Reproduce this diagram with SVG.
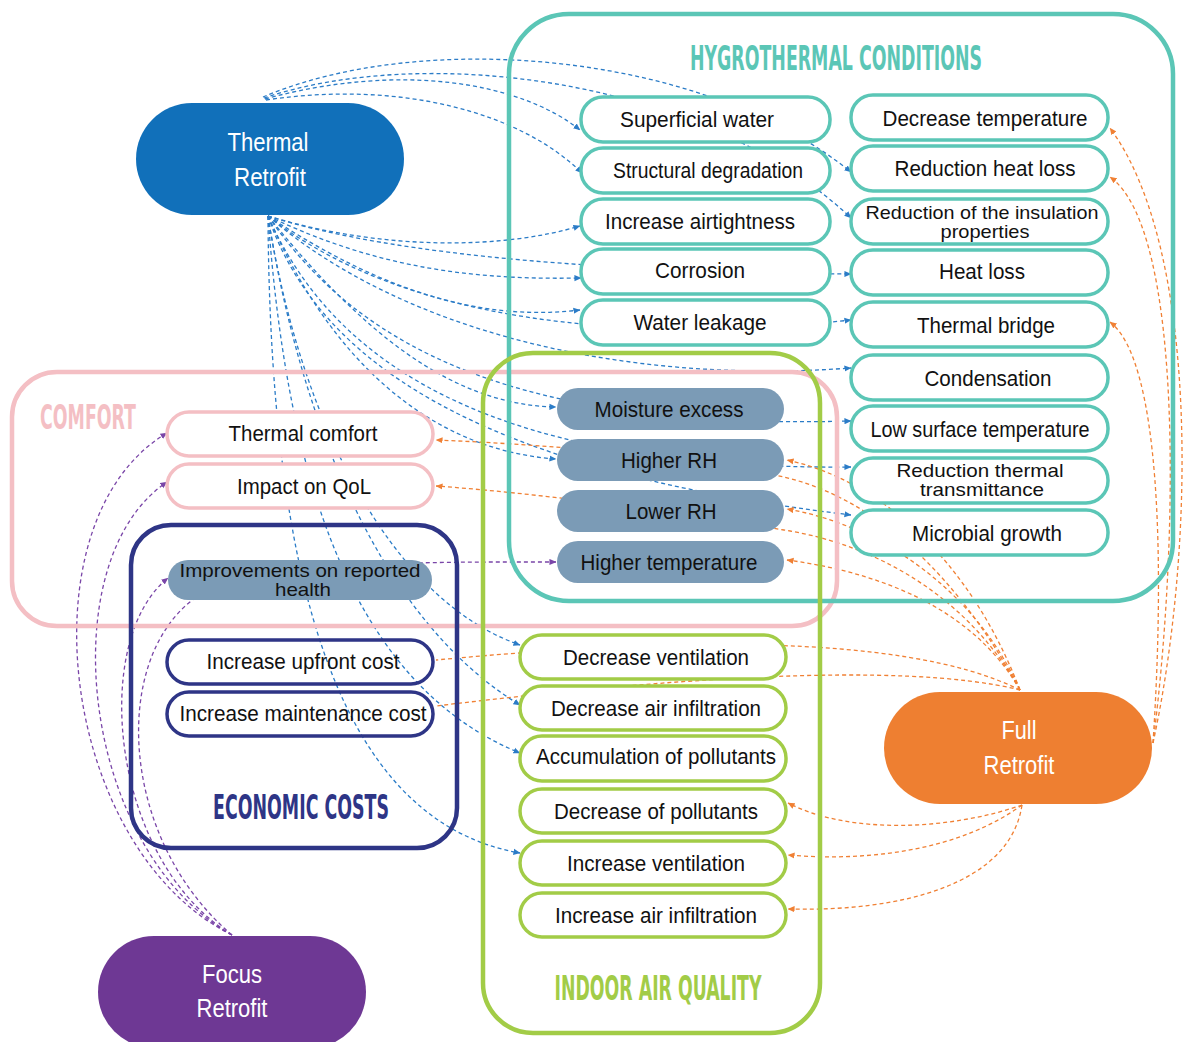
<svg xmlns="http://www.w3.org/2000/svg" width="1187" height="1042" viewBox="0 0 1187 1042">
<style>
.cb{fill:none;stroke:#2b7cc7;stroke-width:1.3;stroke-dasharray:4 3;marker-end:url(#ab)}
.con{fill:none;stroke:#f08034;stroke-width:1.3;stroke-dasharray:4 3}
.co{fill:none;stroke:#f08034;stroke-width:1.3;stroke-dasharray:4 3;marker-end:url(#ao)}
.cp{fill:none;stroke:#7a46a8;stroke-width:1.3;stroke-dasharray:4 3;marker-end:url(#ap)}
.ht{fill:#fff;stroke:#5bc6b6;stroke-width:3.5}
.cf{fill:#fff;stroke:#f4bfc4;stroke-width:3.5}
.ec{fill:none;stroke:#2e3586;stroke-width:3.5}
.iq{fill:#fff;stroke:#a2cc47;stroke-width:3.5}
.gb{fill:#7b9bb6;stroke:none}
.t{font-family:"Liberation Sans",Arial,sans-serif;font-size:22px;fill:#111;text-anchor:middle}
.t2{font-family:"Liberation Sans",Arial,sans-serif;font-size:19px;fill:#111;text-anchor:middle}
.w{font-family:"Liberation Sans",Arial,sans-serif;font-size:25px;fill:#fff;text-anchor:middle}
.h{font-family:"DejaVu Sans Condensed","Liberation Sans",sans-serif;font-weight:bold;font-size:33px;text-anchor:middle}
</style>
<defs>
<marker id="ab" viewBox="0 0 8 8" refX="7.5" refY="4" markerWidth="7" markerHeight="7" orient="auto" markerUnits="userSpaceOnUse"><path d="M0,0.5 L8,4 L0,7.5 z" fill="#2b7cc7"/></marker>
<marker id="ao" viewBox="0 0 8 8" refX="7.5" refY="4" markerWidth="7" markerHeight="7" orient="auto" markerUnits="userSpaceOnUse"><path d="M0,0.5 L8,4 L0,7.5 z" fill="#f08034"/></marker>
<marker id="ap" viewBox="0 0 8 8" refX="7.5" refY="4" markerWidth="7" markerHeight="7" orient="auto" markerUnits="userSpaceOnUse"><path d="M0,0.5 L8,4 L0,7.5 z" fill="#7a46a8"/></marker>
</defs>
<rect width="1187" height="1042" fill="#fff"/>

<g id="connectors">
<path class="cb" d="M263,97 C420,30 700,50 851,172"/>
<path class="cb" d="M264,98 C420,45 700,75 851,218"/>
<path class="cb" d="M265,99 C400,62 520,82 580,130"/>
<path class="cb" d="M266,100 C400,80 520,112 582,173"/>
<path class="cb" d="M268,216 C380,250 500,250 580,226"/>
<path class="cb" d="M268,216 C400,258 620,272 851,274"/>
<path class="cb" d="M268,216 C380,270 480,280 581,278"/>
<path class="cb" d="M268,216 C380,290 480,322 580,310"/>
<path class="cb" d="M268,216 C400,320 620,345 851,320"/>
<path class="cb" d="M268,216 C400,330 620,385 851,368"/>
<path class="cb" d="M268,216 C360,330 450,405 556,407"/>
<path class="cb" d="M268,216 C360,350 520,430 851,421"/>
<path class="cb" d="M268,216 C330,360 430,450 556,459"/>
<path class="cb" d="M268,216 C340,380 520,470 851,467"/>
<path class="cb" d="M268,216 C330,400 560,480 851,515"/>
<path class="cb" d="M268,216 C300,420 390,600 520,645"/>
<path class="cb" d="M268,216 C300,420 380,620 520,705"/>
<path class="cb" d="M268,216 C285,450 340,680 520,753"/>
<path class="cb" d="M268,216 C270,560 330,820 520,853"/>
<path class="con" d="M1020,690 C900,630 650,640 436,660"/>
<path class="con" d="M1020,690 C900,660 650,680 436,706"/>
<path class="co" d="M1020,690 C960,580 880,500 784,477 C700,458 560,445 436,440"/>
<path class="co" d="M1020,690 C970,600 880,545 784,530 C690,515 560,495 436,486"/>
<path class="co" d="M1020,690 C970,560 880,480 787,460"/>
<path class="co" d="M1020,690 C975,590 880,525 787,509"/>
<path class="co" d="M1020,690 C980,620 900,575 787,560"/>
<path class="co" d="M1153,743 C1195,550 1200,250 1110,128"/>
<path class="co" d="M1153,743 C1178,550 1185,230 1110,177"/>
<path class="co" d="M1153,743 C1165,560 1160,360 1110,322"/>
<path class="co" d="M1022,805 C950,830 850,835 788,803"/>
<path class="co" d="M1022,805 C960,850 870,862 788,855"/>
<path class="co" d="M1022,805 C1010,885 900,912 788,909"/>
<path class="cp" d="M232,935 C60,850 20,520 167,433"/>
<path class="cp" d="M232,935 C80,850 50,560 167,482"/>
<path class="cp" d="M232,935 C110,860 90,640 168,578"/>
<path class="cp" d="M232,935 C120,840 110,660 195,598 C280,560 420,562 556,562"/>
</g>

<g id="containers">
<g id="comfort-group">
<rect x="12" y="372" width="825" height="254" rx="45" fill="none" stroke="#f4bfc4" stroke-width="4.5"/>
<text class="h" x="88" y="429" fill="#f4bfc4" textLength="96" lengthAdjust="spacingAndGlyphs">COMFORT</text>
</g>
<g id="hygrothermal-group">
<rect x="509" y="14" width="664" height="587" rx="60" fill="none" stroke="#5bc6b6" stroke-width="4.5"/>
<text class="h" x="836" y="70" fill="#5bc6b6" textLength="292" lengthAdjust="spacingAndGlyphs">HYGROTHERMAL CONDITIONS</text>
</g>
<g id="economic-group">
<rect x="131" y="525" width="326" height="323" rx="40" fill="none" stroke="#2e3586" stroke-width="4.5"/>
<text class="h" x="301" y="819" fill="#2e3586" textLength="176" lengthAdjust="spacingAndGlyphs">ECONOMIC COSTS</text>
</g>
<g id="iaq-group">
<rect x="483" y="353" width="337" height="680" rx="50" fill="none" stroke="#a2cc47" stroke-width="4.5"/>
<text class="h" x="658" y="1000" fill="#a2cc47" textLength="207" lengthAdjust="spacingAndGlyphs">INDOOR AIR QUALITY</text>
</g>
</g>

<g id="thermal-retrofit"><rect x="136" y="103" width="268" height="112" rx="56" fill="#1170ba"/><text class="w" x="268" y="151" textLength="81" lengthAdjust="spacingAndGlyphs">Thermal</text><text class="w" x="270" y="186" textLength="72" lengthAdjust="spacingAndGlyphs">Retrofit</text></g>
<g id="full-retrofit"><rect x="884" y="692" width="268" height="112" rx="56" fill="#ee7f31"/><text class="w" x="1019" y="739" textLength="35" lengthAdjust="spacingAndGlyphs">Full</text><text class="w" x="1019" y="774" textLength="71" lengthAdjust="spacingAndGlyphs">Retrofit</text></g>
<g id="focus-retrofit"><rect x="98" y="936" width="268" height="112" rx="56" fill="#6e3894"/><text class="w" x="232" y="983" textLength="60" lengthAdjust="spacingAndGlyphs">Focus</text><text class="w" x="232" y="1017" textLength="71" lengthAdjust="spacingAndGlyphs">Retrofit</text></g>

<g id="superficial-water"><rect class="ht" x="581" y="97" width="249" height="45" rx="22"/><text class="t" x="697" y="127" textLength="154" lengthAdjust="spacingAndGlyphs">Superficial water</text></g>
<g id="structural-degradation"><rect class="ht" x="581" y="148" width="249" height="45" rx="22"/><text class="t" x="708" y="178" textLength="190" lengthAdjust="spacingAndGlyphs">Structural degradation</text></g>
<g id="increase-airtightness"><rect class="ht" x="581" y="199" width="249" height="45" rx="22"/><text class="t" x="700" y="229" textLength="190" lengthAdjust="spacingAndGlyphs">Increase airtightness</text></g>
<g id="corrosion"><rect class="ht" x="581" y="249" width="249" height="45" rx="22"/><text class="t" x="700" y="278" textLength="90" lengthAdjust="spacingAndGlyphs">Corrosion</text></g>
<g id="water-leakage"><rect class="ht" x="581" y="300" width="249" height="45" rx="22"/><text class="t" x="700" y="330" textLength="133" lengthAdjust="spacingAndGlyphs">Water leakage</text></g>

<g id="decrease-temperature"><rect class="ht" x="851" y="95" width="257" height="45" rx="22"/><text class="t" x="985" y="126" textLength="205" lengthAdjust="spacingAndGlyphs">Decrease temperature</text></g>
<g id="reduction-heat-loss"><rect class="ht" x="851" y="146" width="257" height="45" rx="22"/><text class="t" x="985" y="176" textLength="181" lengthAdjust="spacingAndGlyphs">Reduction heat loss</text></g>
<g id="reduction-insulation"><rect class="ht" x="851" y="199" width="257" height="45" rx="22"/><text class="t2" x="982" y="219" textLength="233" lengthAdjust="spacingAndGlyphs">Reduction of the insulation</text><text class="t2" x="985" y="238" textLength="89" lengthAdjust="spacingAndGlyphs">properties</text></g>
<g id="heat-loss"><rect class="ht" x="851" y="250" width="257" height="45" rx="22"/><text class="t" x="982" y="279" textLength="86" lengthAdjust="spacingAndGlyphs">Heat loss</text></g>
<g id="thermal-bridge"><rect class="ht" x="851" y="302" width="257" height="45" rx="22"/><text class="t" x="986" y="333" textLength="138" lengthAdjust="spacingAndGlyphs">Thermal bridge</text></g>
<g id="condensation"><rect class="ht" x="851" y="355" width="257" height="45" rx="22"/><text class="t" x="988" y="386" textLength="127" lengthAdjust="spacingAndGlyphs">Condensation</text></g>
<g id="low-surface-temperature"><rect class="ht" x="851" y="406" width="257" height="45" rx="22"/><text class="t" x="980" y="437" textLength="219" lengthAdjust="spacingAndGlyphs">Low surface temperature</text></g>
<g id="reduction-thermal-transmittance"><rect class="ht" x="851" y="458" width="257" height="45" rx="22"/><text class="t2" x="980" y="477" textLength="167" lengthAdjust="spacingAndGlyphs">Reduction thermal</text><text class="t2" x="982" y="496" textLength="124" lengthAdjust="spacingAndGlyphs">transmittance</text></g>
<g id="microbial-growth"><rect class="ht" x="851" y="510" width="257" height="45" rx="22"/><text class="t" x="987" y="541" textLength="150" lengthAdjust="spacingAndGlyphs">Microbial growth</text></g>

<g id="moisture-excess"><rect class="gb" x="557" y="388" width="227" height="42" rx="21"/><text class="t" x="669" y="417" textLength="149" lengthAdjust="spacingAndGlyphs">Moisture excess</text></g>
<g id="higher-rh"><rect class="gb" x="557" y="439" width="227" height="42" rx="21"/><text class="t" x="669" y="468" textLength="96" lengthAdjust="spacingAndGlyphs">Higher RH</text></g>
<g id="lower-rh"><rect class="gb" x="557" y="490" width="227" height="42" rx="21"/><text class="t" x="671" y="519" textLength="91" lengthAdjust="spacingAndGlyphs">Lower RH</text></g>
<g id="higher-temperature"><rect class="gb" x="557" y="541" width="227" height="42" rx="21"/><text class="t" x="669" y="570" textLength="177" lengthAdjust="spacingAndGlyphs">Higher temperature</text></g>

<g id="thermal-comfort"><rect class="cf" x="167" y="412" width="266" height="44" rx="22"/><text class="t" x="303" y="441" textLength="149" lengthAdjust="spacingAndGlyphs">Thermal comfort</text></g>
<g id="impact-qol"><rect class="cf" x="167" y="464" width="266" height="44" rx="22"/><text class="t" x="304" y="494" textLength="134" lengthAdjust="spacingAndGlyphs">Impact on QoL</text></g>
<g id="improvements-health"><rect class="gb" x="168" y="560" width="264" height="40" rx="20"/><text class="t2" x="300" y="577" textLength="241" lengthAdjust="spacingAndGlyphs">Improvements on reported</text><text class="t2" x="303" y="596" textLength="56" lengthAdjust="spacingAndGlyphs">health</text></g>

<g id="increase-upfront-cost"><rect class="ec" x="167" y="640" width="266" height="44" rx="22"/><text class="t" x="303" y="669" textLength="193" lengthAdjust="spacingAndGlyphs">Increase upfront cost</text></g>
<g id="increase-maintenance-cost"><rect class="ec" x="167" y="692" width="266" height="44" rx="22"/><text class="t" x="303" y="721" textLength="247" lengthAdjust="spacingAndGlyphs">Increase maintenance cost</text></g>

<g id="decrease-ventilation"><rect class="iq" x="520" y="635" width="266" height="44" rx="22"/><text class="t" x="656" y="665" textLength="186" lengthAdjust="spacingAndGlyphs">Decrease ventilation</text></g>
<g id="decrease-air-infiltration"><rect class="iq" x="520" y="686" width="266" height="44" rx="22"/><text class="t" x="656" y="716" textLength="210" lengthAdjust="spacingAndGlyphs">Decrease air infiltration</text></g>
<g id="accumulation-pollutants"><rect class="iq" x="520" y="736" width="266" height="45" rx="22"/><text class="t" x="656" y="764" textLength="240" lengthAdjust="spacingAndGlyphs">Accumulation of pollutants</text></g>
<g id="decrease-pollutants"><rect class="iq" x="520" y="789" width="266" height="44" rx="22"/><text class="t" x="656" y="819" textLength="204" lengthAdjust="spacingAndGlyphs">Decrease of pollutants</text></g>
<g id="increase-ventilation"><rect class="iq" x="520" y="841" width="266" height="44" rx="22"/><text class="t" x="656" y="871" textLength="178" lengthAdjust="spacingAndGlyphs">Increase ventilation</text></g>
<g id="increase-air-infiltration"><rect class="iq" x="520" y="893" width="266" height="44" rx="22"/><text class="t" x="656" y="923" textLength="202" lengthAdjust="spacingAndGlyphs">Increase air infiltration</text></g>
</svg>
